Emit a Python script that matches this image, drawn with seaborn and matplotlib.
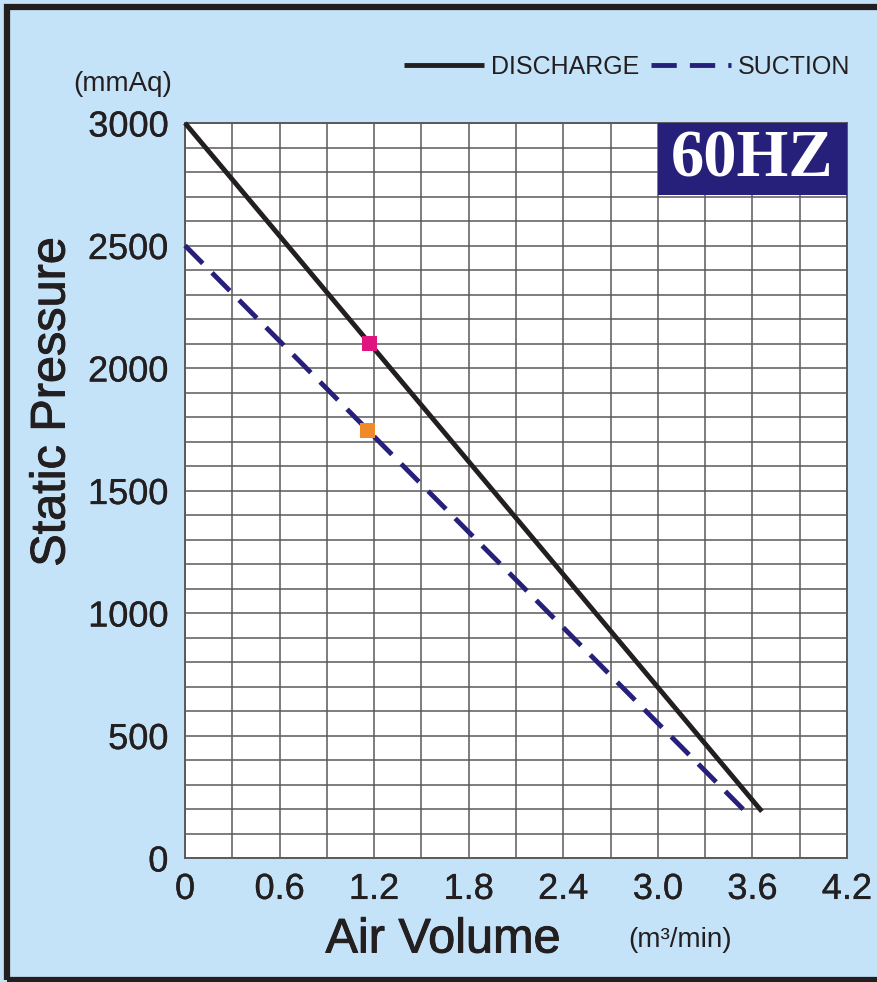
import matplotlib
matplotlib.use('Agg')
import numpy as np
import pandas as pd
import seaborn as sns
from matplotlib import pyplot as plt
from matplotlib import patheffects as pe
from matplotlib.patches import Rectangle
from matplotlib.ticker import MultipleLocator

BG = '#C4E3F8'
INK = '#231F20'
NAVY = '#27207A'
GRID = '#5A5A5A'

# data
discharge_flow = [0.0, 3.66]
discharge_pressure = [3000, 190]
suction_flow = [0.0, 3.57]
suction_pressure = [2500, 180]
point_flow = [1.17, 1.16]
point_pressure = [2100, 1745]
point_colors = ['#E0147E', '#F0892A']
x_ticks = [0, 0.6, 1.2, 1.8, 2.4, 3.0, 3.6, 4.2]
x_tick_labels = ['0', '0.6', '1.2', '1.8', '2.4', '3.0', '3.6', '4.2']
y_ticks = [0, 500, 1000, 1500, 2000, 2500, 3000]

sns.set_theme(style='white')
plt.rcParams['font.family'] = ['Liberation Sans', 'DejaVu Sans']
plt.rcParams['text.color'] = INK

df = pd.concat([
    pd.DataFrame({'flow': discharge_flow, 'pressure': discharge_pressure, 'kind': 'DISCHARGE'}),
    pd.DataFrame({'flow': suction_flow, 'pressure': suction_pressure, 'kind': 'SUCTION'}),
])

fig = plt.figure(figsize=(8.77, 9.82), dpi=100, facecolor=BG)
ax = fig.add_axes([185 / 877, 124 / 982, 662 / 877, 735 / 982])
ax.set_facecolor('white')

sns.lineplot(data=df, x='flow', y='pressure', hue='kind', style='kind',
             palette={'DISCHARGE': INK, 'SUCTION': NAVY},
             dashes={'DISCHARGE': '', 'SUCTION': (5.2, 2.7)},
             lw=3.5, ax=ax, zorder=3, legend=False)
sns.scatterplot(x=point_flow, y=point_pressure, hue=list(range(len(point_flow))),
                palette=point_colors, marker='s', s=115, linewidth=0,
                ax=ax, zorder=4, legend=False)
for ln in ax.lines:
    ln.set_clip_on(False)
    ln.set_solid_capstyle('butt')

ax.set_xlim(0, 4.2)
ax.set_ylim(0, 3000)
ax.set_xticks(x_ticks)
ax.set_xticklabels(x_tick_labels)
ax.set_yticks(y_ticks)
ax.xaxis.set_minor_locator(MultipleLocator(0.3))
ax.yaxis.set_minor_locator(MultipleLocator(100))
ax.grid(which='both', color=GRID, lw=1.1, zorder=0)
ax.set_axisbelow(True)
ax.tick_params(which='both', length=0, labelsize=26, colors=INK)
ax.tick_params(axis='x', pad=10)
ax.tick_params(axis='y', pad=12)
for lab in ax.get_xticklabels() + ax.get_yticklabels():
    lab.set_path_effects([pe.withStroke(linewidth=0.25, foreground=INK)])
for sp in ax.spines.values():
    sp.set_color(GRID)
    sp.set_linewidth(1.4)
ax.set_xlabel('')
ax.set_ylabel('')

# 60HZ badge in the top-right corner
ax.add_patch(Rectangle((3.0, 2705), 1.2, 295, facecolor=NAVY, edgecolor='none', zorder=5))
ax.text(3.6, 2850, '60HZ', color='white', fontsize=48, fontweight='bold',
        family=['Liberation Serif', 'DejaVu Serif'], ha='center', va='center', zorder=6)

# axis titles
thick = [pe.withStroke(linewidth=0.7, foreground=INK)]
fig.text(443 / 877, 1 - 940 / 982, 'Air Volume', fontsize=35, ha='center', va='center',
         path_effects=thick)
fig.text(680 / 877, 1 - 940 / 982, '(m³/min)', fontsize=20, ha='center', va='center')
fig.text(52 / 877, 1 - 402 / 982, 'Static Pressure', fontsize=35, rotation=90,
         ha='center', va='center', path_effects=thick)
fig.text(172 / 877, 1 - 84 / 982, '(mmAq)', fontsize=20, ha='right', va='center')

# legend on top
handles = ax.lines[:2]
leg = fig.legend(handles, ['DISCHARGE', 'SUCTION'], ncol=2, frameon=False,
                 loc='center right', bbox_to_anchor=(850 / 877, 1 - 67 / 982),
                 prop={'family': ['Liberation Sans Narrow', 'Liberation Sans'], 'size': 18},
                 handlelength=3.2, handletextpad=0.25, columnspacing=0.5,
                 borderpad=0, borderaxespad=0)
for t in leg.get_texts():
    t.set_color(INK)

# dark frame round the figure
fig.patches.append(Rectangle((7 / 877, 2 / 982), 1.2, 973 / 982, transform=fig.transFigure,
                             facecolor='none', edgecolor=INK, lw=4.5, zorder=10))

fig.savefig('out.png', dpi=100, facecolor=BG)
